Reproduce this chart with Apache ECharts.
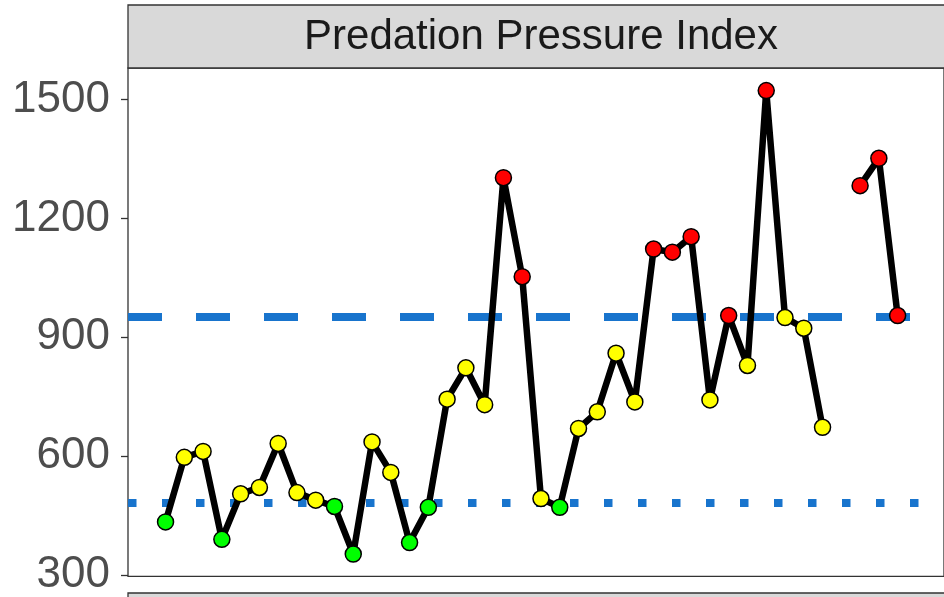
<!DOCTYPE html>
<html>
<head>
<meta charset="utf-8">
<script src="https://cdn.jsdelivr.net/npm/echarts@6/dist/echarts.min.js"></script>
<style>
  html, body { margin: 0; padding: 0; background: #fff; }
  #chart { width: 944px; height: 597px; }
</style>
</head>
<body>
<div id="chart"></div>
<script>
// observation index (1..41), value, and status colour; 37 and 41 are missing
const steps = [1, 2, 3, 4, 5, 6, 7, 8, 9, 10, 11, 12, 13, 14, 15, 16, 17, 18, 19, 20,
  21, 22, 23, 24, 25, 26, 27, 28, 29, 30, 31, 32, 33, 34, 35, 36, 37, 38, 39, 40, 41];
const values = [434, 597, 612, 390, 505, 521, 632, 508, 489, 473, 353, 636, 559, 382, 471,
  744, 823, 730, 1303, 1053, 493, 471, 670, 712, 860, 737, 1123, 1115, 1154, 742,
  955, 829, 1523, 950, 923, 673, null, 1283, 1352, 955, null];
const levels = ['g', 'y', 'y', 'g', 'y', 'y', 'y', 'y', 'y', 'g', 'g', 'y', 'y', 'g', 'g',
  'y', 'y', 'y', 'r', 'r', 'y', 'g', 'y', 'y', 'y', 'y', 'r', 'r', 'r', 'y',
  'r', 'y', 'r', 'y', 'y', 'y', null, 'r', 'r', 'r', null];
const upperRef = 952;
const lowerRef = 482;
const yTicks = [300, 600, 900, 1200, 1500];
const panelTitle = 'Predation Pressure Index';

const levelColor = {g: '#00FF00', y: '#FFFF00', r: '#FF0000'};

const chart = echarts.init(document.getElementById('chart'));

const points = steps.map((s, i) => {
  if (values[i] === null) return {value: [s, '-']};
  return {value: [s, values[i]], itemStyle: {color: levelColor[levels[i]]}};
});

const option = {
  animation: false,
  backgroundColor: '#ffffff',
  grid: {
    left: 128, top: 68, right: 0, height: 509,
    show: true, borderColor: '#333333', borderWidth: 1.3, backgroundColor: '#ffffff'
  },
  xAxis: {
    type: 'value', min: -1, max: 42.47,
    axisLine: {show: false}, axisTick: {show: false},
    axisLabel: {show: false}, splitLine: {show: false}
  },
  yAxis: {
    type: 'value', min: 296.7, max: 1580,
    axisLine: {show: false, onZero: false},
    axisTick: {
      show: true, length: 7, lineStyle: {color: '#333333', width: 1.3},
      customValues: yTicks
    },
    axisLabel: {
      show: true, margin: 18, fontSize: 44, color: '#4d4d4d',
      fontFamily: 'Liberation Sans, Arial, sans-serif',
      customValues: yTicks,
      formatter: v => String(v)
    },
    splitLine: {show: false}
  },
  graphic: [
    {
      type: 'rect', z: 10,
      shape: {x: 128, y: 5, width: 840, height: 63},
      style: {fill: '#d9d9d9', stroke: '#333333', lineWidth: 1.3}
    },
    {
      type: 'text', z: 11, x: 541, y: 37,
      style: {
        text: panelTitle, fontSize: 42, fill: '#1a1a1a',
        fontFamily: 'Liberation Sans, Arial, sans-serif',
        align: 'center', verticalAlign: 'middle'
      }
    },
    {
      type: 'rect', z: 10,
      shape: {x: 128, y: 593, width: 840, height: 30},
      style: {fill: '#d9d9d9', stroke: '#333333', lineWidth: 1.3}
    }
  ],
  series: [
    {
      // reference lines, drawn beneath the data
      type: 'line',
      data: [],
      z: 1,
      markLine: {
        silent: true,
        symbol: ['none', 'none'],
        label: {show: false},
        z: 1,
        data: [
          {yAxis: upperRef, lineStyle: {color: '#1874CD', width: 8, type: [34, 34], cap: 'butt'}},
          {yAxis: lowerRef, lineStyle: {color: '#1874CD', width: 8, type: [8.5, 25.5], cap: 'butt'}}
        ]
      }
    },
    {
      type: 'line',
      data: points,
      connectNulls: false,
      symbol: 'circle',
      symbolSize: 16,
      lineStyle: {color: '#000000', width: 6.5},
      itemStyle: {borderColor: '#000000', borderWidth: 1.5},
      z: 5
    }
  ]
};

chart.setOption(option);
</script>
</body>
</html>
